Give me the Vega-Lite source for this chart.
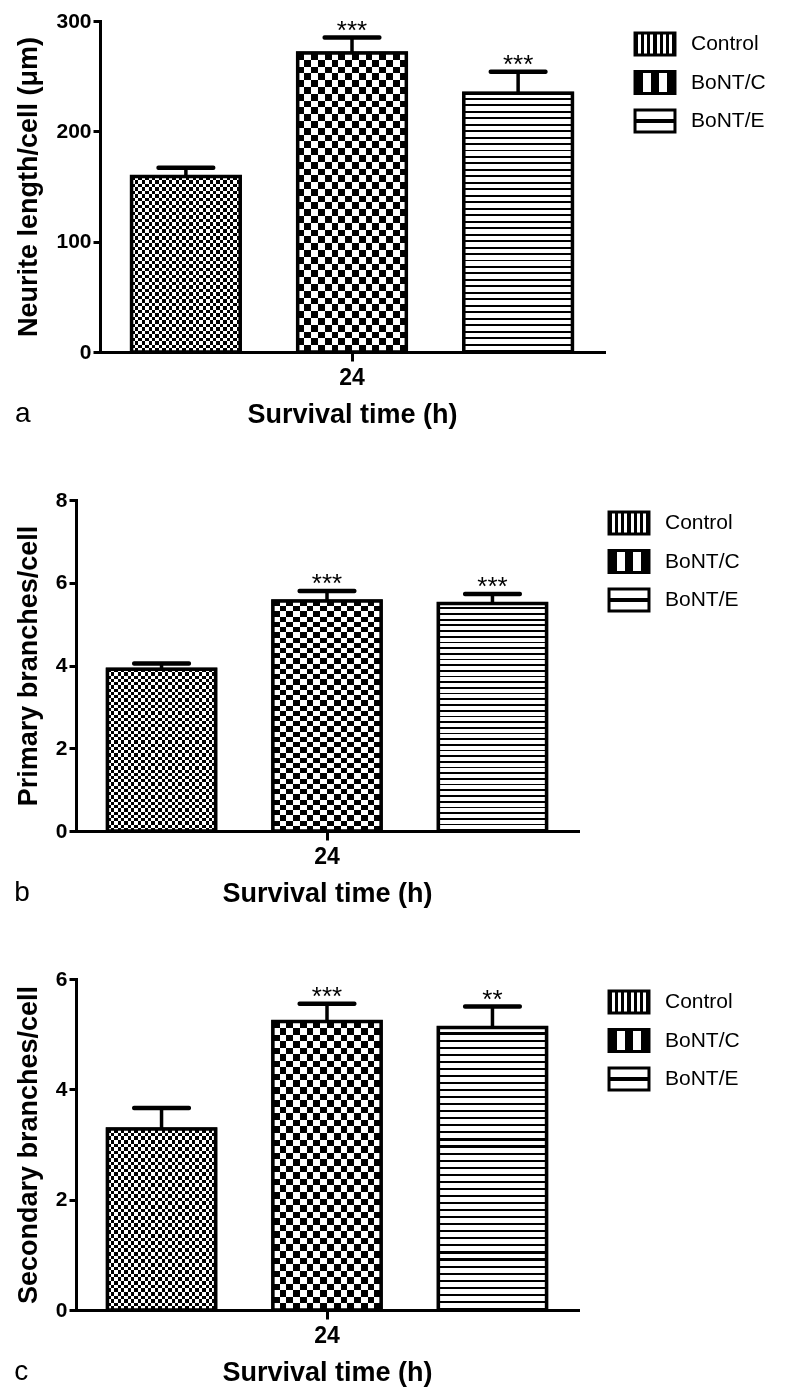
{
"$schema": "https://vega.github.io/schema/vega-lite/v6.json",
"background": "white",
"padding": {"left": 13, "top": 10, "right": 5, "bottom": 5},
"params": [
 {"name":"gLegCtrl","value":{"gradient":"linear","x1":0,"y1":0,"x2":1,"y2":0,"stops":[{"offset":0.0769,"color":"#000"},{"offset":0.0769,"color":"#fff"},{"offset":0.1538,"color":"#fff"},{"offset":0.1538,"color":"#000"},{"offset":0.2308,"color":"#000"},{"offset":0.2308,"color":"#fff"},{"offset":0.3077,"color":"#fff"},{"offset":0.3077,"color":"#000"},{"offset":0.3846,"color":"#000"},{"offset":0.3846,"color":"#fff"},{"offset":0.4615,"color":"#fff"},{"offset":0.4615,"color":"#000"},{"offset":0.5385,"color":"#000"},{"offset":0.5385,"color":"#fff"},{"offset":0.6154,"color":"#fff"},{"offset":0.6154,"color":"#000"},{"offset":0.6923,"color":"#000"},{"offset":0.6923,"color":"#fff"},{"offset":0.7692,"color":"#fff"},{"offset":0.7692,"color":"#000"},{"offset":0.8462,"color":"#000"},{"offset":0.8462,"color":"#fff"},{"offset":0.9231,"color":"#fff"},{"offset":0.9231,"color":"#000"}]}},
 {"name":"gLegC","value":{"gradient":"linear","x1":0,"y1":0,"x2":1,"y2":0,"stops":[{"offset":0.2,"color":"#000"},{"offset":0.2,"color":"#fff"},{"offset":0.4,"color":"#fff"},{"offset":0.4,"color":"#000"},{"offset":0.6,"color":"#000"},{"offset":0.6,"color":"#fff"},{"offset":0.8,"color":"#fff"},{"offset":0.8,"color":"#000"}]}},
 {"name":"gLegE","value":{"gradient":"linear","x1":0,"y1":0,"x2":0,"y2":1,"stops":[{"offset":0.42,"color":"#fff"},{"offset":0.42,"color":"#000"},{"offset":0.58,"color":"#000"},{"offset":0.58,"color":"#fff"}]}},
 {"name":"gCtrlV","value":{"gradient":"linear","x1":0,"y1":0,"x2":1,"y2":0,"stops":[
   {"offset":0.03125,"color":"#000"},{"offset":0.03125,"color":"#fff"},
   {"offset":0.0625,"color":"#fff"},{"offset":0.0625,"color":"#000"},
   {"offset":0.09375,"color":"#000"},{"offset":0.09375,"color":"#fff"},
   {"offset":0.125,"color":"#fff"},{"offset":0.125,"color":"#000"},
   {"offset":0.15625,"color":"#000"},{"offset":0.15625,"color":"#fff"},
   {"offset":0.1875,"color":"#fff"},{"offset":0.1875,"color":"#000"},
   {"offset":0.21875,"color":"#000"},{"offset":0.21875,"color":"#fff"},
   {"offset":0.25,"color":"#fff"},{"offset":0.25,"color":"#000"},
   {"offset":0.28125,"color":"#000"},{"offset":0.28125,"color":"#fff"},
   {"offset":0.3125,"color":"#fff"},{"offset":0.3125,"color":"#000"},
   {"offset":0.34375,"color":"#000"},{"offset":0.34375,"color":"#fff"},
   {"offset":0.375,"color":"#fff"},{"offset":0.375,"color":"#000"},
   {"offset":0.40625,"color":"#000"},{"offset":0.40625,"color":"#fff"},
   {"offset":0.4375,"color":"#fff"},{"offset":0.4375,"color":"#000"},
   {"offset":0.46875,"color":"#000"},{"offset":0.46875,"color":"#fff"},
   {"offset":0.5,"color":"#fff"},{"offset":0.5,"color":"#000"},
   {"offset":0.53125,"color":"#000"},{"offset":0.53125,"color":"#fff"},
   {"offset":0.5625,"color":"#fff"},{"offset":0.5625,"color":"#000"},
   {"offset":0.59375,"color":"#000"},{"offset":0.59375,"color":"#fff"},
   {"offset":0.625,"color":"#fff"},{"offset":0.625,"color":"#000"},
   {"offset":0.65625,"color":"#000"},{"offset":0.65625,"color":"#fff"},
   {"offset":0.6875,"color":"#fff"},{"offset":0.6875,"color":"#000"},
   {"offset":0.71875,"color":"#000"},{"offset":0.71875,"color":"#fff"},
   {"offset":0.75,"color":"#fff"},{"offset":0.75,"color":"#000"},
   {"offset":0.78125,"color":"#000"},{"offset":0.78125,"color":"#fff"},
   {"offset":0.8125,"color":"#fff"},{"offset":0.8125,"color":"#000"},
   {"offset":0.84375,"color":"#000"},{"offset":0.84375,"color":"#fff"},
   {"offset":0.875,"color":"#fff"},{"offset":0.875,"color":"#000"},
   {"offset":0.90625,"color":"#000"},{"offset":0.90625,"color":"#fff"},
   {"offset":0.9375,"color":"#fff"},{"offset":0.9375,"color":"#000"},
   {"offset":0.96875,"color":"#000"},{"offset":0.96875,"color":"#fff"}]}},
 {"name":"gCV","value":{"gradient":"linear","x1":0,"y1":0,"x2":1,"y2":0,"stops":[
   {"offset":0.0625,"color":"#000"},{"offset":0.0625,"color":"#fff"},
   {"offset":0.125,"color":"#fff"},{"offset":0.125,"color":"#000"},
   {"offset":0.1875,"color":"#000"},{"offset":0.1875,"color":"#fff"},
   {"offset":0.25,"color":"#fff"},{"offset":0.25,"color":"#000"},
   {"offset":0.3125,"color":"#000"},{"offset":0.3125,"color":"#fff"},
   {"offset":0.375,"color":"#fff"},{"offset":0.375,"color":"#000"},
   {"offset":0.4375,"color":"#000"},{"offset":0.4375,"color":"#fff"},
   {"offset":0.5,"color":"#fff"},{"offset":0.5,"color":"#000"},
   {"offset":0.5625,"color":"#000"},{"offset":0.5625,"color":"#fff"},
   {"offset":0.625,"color":"#fff"},{"offset":0.625,"color":"#000"},
   {"offset":0.6875,"color":"#000"},{"offset":0.6875,"color":"#fff"},
   {"offset":0.75,"color":"#fff"},{"offset":0.75,"color":"#000"},
   {"offset":0.8125,"color":"#000"},{"offset":0.8125,"color":"#fff"},
   {"offset":0.875,"color":"#fff"},{"offset":0.875,"color":"#000"},
   {"offset":0.9375,"color":"#000"},{"offset":0.9375,"color":"#fff"}]}},
 {"name":"gCtrlH","value":{"gradient":"linear","x1":0,"y1":0,"x2":0,"y2":1,"stops":[
   {"offset":0.02,"color":"#000"},{"offset":0.02,"color":"#fff"},
   {"offset":0.04,"color":"#fff"},{"offset":0.04,"color":"#000"},
   {"offset":0.06,"color":"#000"},{"offset":0.06,"color":"#fff"},
   {"offset":0.08,"color":"#fff"},{"offset":0.08,"color":"#000"},
   {"offset":0.1,"color":"#000"},{"offset":0.1,"color":"#fff"},
   {"offset":0.12,"color":"#fff"},{"offset":0.12,"color":"#000"},
   {"offset":0.14,"color":"#000"},{"offset":0.14,"color":"#fff"},
   {"offset":0.16,"color":"#fff"},{"offset":0.16,"color":"#000"},
   {"offset":0.18,"color":"#000"},{"offset":0.18,"color":"#fff"},
   {"offset":0.2,"color":"#fff"},{"offset":0.2,"color":"#000"},
   {"offset":0.22,"color":"#000"},{"offset":0.22,"color":"#fff"},
   {"offset":0.24,"color":"#fff"},{"offset":0.24,"color":"#000"},
   {"offset":0.26,"color":"#000"},{"offset":0.26,"color":"#fff"},
   {"offset":0.28,"color":"#fff"},{"offset":0.28,"color":"#000"},
   {"offset":0.3,"color":"#000"},{"offset":0.3,"color":"#fff"},
   {"offset":0.32,"color":"#fff"},{"offset":0.32,"color":"#000"},
   {"offset":0.34,"color":"#000"},{"offset":0.34,"color":"#fff"},
   {"offset":0.36,"color":"#fff"},{"offset":0.36,"color":"#000"},
   {"offset":0.38,"color":"#000"},{"offset":0.38,"color":"#fff"},
   {"offset":0.4,"color":"#fff"},{"offset":0.4,"color":"#000"},
   {"offset":0.42,"color":"#000"},{"offset":0.42,"color":"#fff"},
   {"offset":0.44,"color":"#fff"},{"offset":0.44,"color":"#000"},
   {"offset":0.46,"color":"#000"},{"offset":0.46,"color":"#fff"},
   {"offset":0.48,"color":"#fff"},{"offset":0.48,"color":"#000"},
   {"offset":0.5,"color":"#000"},{"offset":0.5,"color":"#fff"},
   {"offset":0.52,"color":"#fff"},{"offset":0.52,"color":"#000"},
   {"offset":0.54,"color":"#000"},{"offset":0.54,"color":"#fff"},
   {"offset":0.56,"color":"#fff"},{"offset":0.56,"color":"#000"},
   {"offset":0.58,"color":"#000"},{"offset":0.58,"color":"#fff"},
   {"offset":0.6,"color":"#fff"},{"offset":0.6,"color":"#000"},
   {"offset":0.62,"color":"#000"},{"offset":0.62,"color":"#fff"},
   {"offset":0.64,"color":"#fff"},{"offset":0.64,"color":"#000"},
   {"offset":0.66,"color":"#000"},{"offset":0.66,"color":"#fff"},
   {"offset":0.68,"color":"#fff"},{"offset":0.68,"color":"#000"},
   {"offset":0.7,"color":"#000"},{"offset":0.7,"color":"#fff"},
   {"offset":0.72,"color":"#fff"},{"offset":0.72,"color":"#000"},
   {"offset":0.74,"color":"#000"},{"offset":0.74,"color":"#fff"},
   {"offset":0.76,"color":"#fff"},{"offset":0.76,"color":"#000"},
   {"offset":0.78,"color":"#000"},{"offset":0.78,"color":"#fff"},
   {"offset":0.8,"color":"#fff"},{"offset":0.8,"color":"#000"},
   {"offset":0.82,"color":"#000"},{"offset":0.82,"color":"#fff"},
   {"offset":0.84,"color":"#fff"},{"offset":0.84,"color":"#000"},
   {"offset":0.86,"color":"#000"},{"offset":0.86,"color":"#fff"},
   {"offset":0.88,"color":"#fff"},{"offset":0.88,"color":"#000"},
   {"offset":0.9,"color":"#000"},{"offset":0.9,"color":"#fff"},
   {"offset":0.92,"color":"#fff"},{"offset":0.92,"color":"#000"},
   {"offset":0.94,"color":"#000"},{"offset":0.94,"color":"#fff"},
   {"offset":0.96,"color":"#fff"},{"offset":0.96,"color":"#000"},
   {"offset":0.98,"color":"#000"},{"offset":0.98,"color":"#fff"}]}},
 {"name":"gCH","value":{"gradient":"linear","x1":0,"y1":0,"x2":0,"y2":1,"stops":[
   {"offset":0.0227,"color":"#000"},{"offset":0.0227,"color":"#fff"},
   {"offset":0.0455,"color":"#fff"},{"offset":0.0455,"color":"#000"},
   {"offset":0.0682,"color":"#000"},{"offset":0.0682,"color":"#fff"},
   {"offset":0.0909,"color":"#fff"},{"offset":0.0909,"color":"#000"},
   {"offset":0.1136,"color":"#000"},{"offset":0.1136,"color":"#fff"},
   {"offset":0.1364,"color":"#fff"},{"offset":0.1364,"color":"#000"},
   {"offset":0.1591,"color":"#000"},{"offset":0.1591,"color":"#fff"},
   {"offset":0.1818,"color":"#fff"},{"offset":0.1818,"color":"#000"},
   {"offset":0.2045,"color":"#000"},{"offset":0.2045,"color":"#fff"},
   {"offset":0.2273,"color":"#fff"},{"offset":0.2273,"color":"#000"},
   {"offset":0.25,"color":"#000"},{"offset":0.25,"color":"#fff"},
   {"offset":0.2727,"color":"#fff"},{"offset":0.2727,"color":"#000"},
   {"offset":0.2955,"color":"#000"},{"offset":0.2955,"color":"#fff"},
   {"offset":0.3182,"color":"#fff"},{"offset":0.3182,"color":"#000"},
   {"offset":0.3409,"color":"#000"},{"offset":0.3409,"color":"#fff"},
   {"offset":0.3636,"color":"#fff"},{"offset":0.3636,"color":"#000"},
   {"offset":0.3864,"color":"#000"},{"offset":0.3864,"color":"#fff"},
   {"offset":0.4091,"color":"#fff"},{"offset":0.4091,"color":"#000"},
   {"offset":0.4318,"color":"#000"},{"offset":0.4318,"color":"#fff"},
   {"offset":0.4545,"color":"#fff"},{"offset":0.4545,"color":"#000"},
   {"offset":0.4773,"color":"#000"},{"offset":0.4773,"color":"#fff"},
   {"offset":0.5,"color":"#fff"},{"offset":0.5,"color":"#000"},
   {"offset":0.5227,"color":"#000"},{"offset":0.5227,"color":"#fff"},
   {"offset":0.5455,"color":"#fff"},{"offset":0.5455,"color":"#000"},
   {"offset":0.5682,"color":"#000"},{"offset":0.5682,"color":"#fff"},
   {"offset":0.5909,"color":"#fff"},{"offset":0.5909,"color":"#000"},
   {"offset":0.6136,"color":"#000"},{"offset":0.6136,"color":"#fff"},
   {"offset":0.6364,"color":"#fff"},{"offset":0.6364,"color":"#000"},
   {"offset":0.6591,"color":"#000"},{"offset":0.6591,"color":"#fff"},
   {"offset":0.6818,"color":"#fff"},{"offset":0.6818,"color":"#000"},
   {"offset":0.7045,"color":"#000"},{"offset":0.7045,"color":"#fff"},
   {"offset":0.7273,"color":"#fff"},{"offset":0.7273,"color":"#000"},
   {"offset":0.75,"color":"#000"},{"offset":0.75,"color":"#fff"},
   {"offset":0.7727,"color":"#fff"},{"offset":0.7727,"color":"#000"},
   {"offset":0.7955,"color":"#000"},{"offset":0.7955,"color":"#fff"},
   {"offset":0.8182,"color":"#fff"},{"offset":0.8182,"color":"#000"},
   {"offset":0.8409,"color":"#000"},{"offset":0.8409,"color":"#fff"},
   {"offset":0.8636,"color":"#fff"},{"offset":0.8636,"color":"#000"},
   {"offset":0.8864,"color":"#000"},{"offset":0.8864,"color":"#fff"},
   {"offset":0.9091,"color":"#fff"},{"offset":0.9091,"color":"#000"},
   {"offset":0.9318,"color":"#000"},{"offset":0.9318,"color":"#fff"},
   {"offset":0.9545,"color":"#fff"},{"offset":0.9545,"color":"#000"},
   {"offset":0.9773,"color":"#000"},{"offset":0.9773,"color":"#fff"}]}},
 {"name":"gEH","value":{"gradient":"linear","x1":0,"y1":0,"x2":0,"y2":1,"stops":[
   {"offset":0.0175,"color":"#fff"},{"offset":0.0175,"color":"#000"},{"offset":0.025,"color":"#000"},{"offset":0.025,"color":"#fff"},
   {"offset":0.0425,"color":"#fff"},{"offset":0.0425,"color":"#000"},{"offset":0.05,"color":"#000"},{"offset":0.05,"color":"#fff"},
   {"offset":0.0675,"color":"#fff"},{"offset":0.0675,"color":"#000"},{"offset":0.075,"color":"#000"},{"offset":0.075,"color":"#fff"},
   {"offset":0.0925,"color":"#fff"},{"offset":0.0925,"color":"#000"},{"offset":0.1,"color":"#000"},{"offset":0.1,"color":"#fff"},
   {"offset":0.1175,"color":"#fff"},{"offset":0.1175,"color":"#000"},{"offset":0.125,"color":"#000"},{"offset":0.125,"color":"#fff"},
   {"offset":0.1425,"color":"#fff"},{"offset":0.1425,"color":"#000"},{"offset":0.15,"color":"#000"},{"offset":0.15,"color":"#fff"},
   {"offset":0.1675,"color":"#fff"},{"offset":0.1675,"color":"#000"},{"offset":0.175,"color":"#000"},{"offset":0.175,"color":"#fff"},
   {"offset":0.1925,"color":"#fff"},{"offset":0.1925,"color":"#000"},{"offset":0.2,"color":"#000"},{"offset":0.2,"color":"#fff"},
   {"offset":0.2175,"color":"#fff"},{"offset":0.2175,"color":"#000"},{"offset":0.225,"color":"#000"},{"offset":0.225,"color":"#fff"},
   {"offset":0.2425,"color":"#fff"},{"offset":0.2425,"color":"#000"},{"offset":0.25,"color":"#000"},{"offset":0.25,"color":"#fff"},
   {"offset":0.2675,"color":"#fff"},{"offset":0.2675,"color":"#000"},{"offset":0.275,"color":"#000"},{"offset":0.275,"color":"#fff"},
   {"offset":0.2925,"color":"#fff"},{"offset":0.2925,"color":"#000"},{"offset":0.3,"color":"#000"},{"offset":0.3,"color":"#fff"},
   {"offset":0.3175,"color":"#fff"},{"offset":0.3175,"color":"#000"},{"offset":0.325,"color":"#000"},{"offset":0.325,"color":"#fff"},
   {"offset":0.3425,"color":"#fff"},{"offset":0.3425,"color":"#000"},{"offset":0.35,"color":"#000"},{"offset":0.35,"color":"#fff"},
   {"offset":0.3675,"color":"#fff"},{"offset":0.3675,"color":"#000"},{"offset":0.375,"color":"#000"},{"offset":0.375,"color":"#fff"},
   {"offset":0.3925,"color":"#fff"},{"offset":0.3925,"color":"#000"},{"offset":0.4,"color":"#000"},{"offset":0.4,"color":"#fff"},
   {"offset":0.4175,"color":"#fff"},{"offset":0.4175,"color":"#000"},{"offset":0.425,"color":"#000"},{"offset":0.425,"color":"#fff"},
   {"offset":0.4425,"color":"#fff"},{"offset":0.4425,"color":"#000"},{"offset":0.45,"color":"#000"},{"offset":0.45,"color":"#fff"},
   {"offset":0.4675,"color":"#fff"},{"offset":0.4675,"color":"#000"},{"offset":0.475,"color":"#000"},{"offset":0.475,"color":"#fff"},
   {"offset":0.4925,"color":"#fff"},{"offset":0.4925,"color":"#000"},{"offset":0.5,"color":"#000"},{"offset":0.5,"color":"#fff"},
   {"offset":0.5175,"color":"#fff"},{"offset":0.5175,"color":"#000"},{"offset":0.525,"color":"#000"},{"offset":0.525,"color":"#fff"},
   {"offset":0.5425,"color":"#fff"},{"offset":0.5425,"color":"#000"},{"offset":0.55,"color":"#000"},{"offset":0.55,"color":"#fff"},
   {"offset":0.5675,"color":"#fff"},{"offset":0.5675,"color":"#000"},{"offset":0.575,"color":"#000"},{"offset":0.575,"color":"#fff"},
   {"offset":0.5925,"color":"#fff"},{"offset":0.5925,"color":"#000"},{"offset":0.6,"color":"#000"},{"offset":0.6,"color":"#fff"},
   {"offset":0.6175,"color":"#fff"},{"offset":0.6175,"color":"#000"},{"offset":0.625,"color":"#000"},{"offset":0.625,"color":"#fff"},
   {"offset":0.6425,"color":"#fff"},{"offset":0.6425,"color":"#000"},{"offset":0.65,"color":"#000"},{"offset":0.65,"color":"#fff"},
   {"offset":0.6675,"color":"#fff"},{"offset":0.6675,"color":"#000"},{"offset":0.675,"color":"#000"},{"offset":0.675,"color":"#fff"},
   {"offset":0.6925,"color":"#fff"},{"offset":0.6925,"color":"#000"},{"offset":0.7,"color":"#000"},{"offset":0.7,"color":"#fff"},
   {"offset":0.7175,"color":"#fff"},{"offset":0.7175,"color":"#000"},{"offset":0.725,"color":"#000"},{"offset":0.725,"color":"#fff"},
   {"offset":0.7425,"color":"#fff"},{"offset":0.7425,"color":"#000"},{"offset":0.75,"color":"#000"},{"offset":0.75,"color":"#fff"},
   {"offset":0.7675,"color":"#fff"},{"offset":0.7675,"color":"#000"},{"offset":0.775,"color":"#000"},{"offset":0.775,"color":"#fff"},
   {"offset":0.7925,"color":"#fff"},{"offset":0.7925,"color":"#000"},{"offset":0.8,"color":"#000"},{"offset":0.8,"color":"#fff"},
   {"offset":0.8175,"color":"#fff"},{"offset":0.8175,"color":"#000"},{"offset":0.825,"color":"#000"},{"offset":0.825,"color":"#fff"},
   {"offset":0.8425,"color":"#fff"},{"offset":0.8425,"color":"#000"},{"offset":0.85,"color":"#000"},{"offset":0.85,"color":"#fff"},
   {"offset":0.8675,"color":"#fff"},{"offset":0.8675,"color":"#000"},{"offset":0.875,"color":"#000"},{"offset":0.875,"color":"#fff"},
   {"offset":0.8925,"color":"#fff"},{"offset":0.8925,"color":"#000"},{"offset":0.9,"color":"#000"},{"offset":0.9,"color":"#fff"},
   {"offset":0.9175,"color":"#fff"},{"offset":0.9175,"color":"#000"},{"offset":0.925,"color":"#000"},{"offset":0.925,"color":"#fff"},
   {"offset":0.9425,"color":"#fff"},{"offset":0.9425,"color":"#000"},{"offset":0.95,"color":"#000"},{"offset":0.95,"color":"#fff"},
   {"offset":0.9675,"color":"#fff"},{"offset":0.9675,"color":"#000"},{"offset":0.975,"color":"#000"},{"offset":0.975,"color":"#fff"},
   {"offset":0.9925,"color":"#fff"},{"offset":0.9925,"color":"#000"}]}}
],
"datasets": {
 "a": [
  {"time":"24","group":"Control","mean":159,"upper":167,"sig":""},
  {"time":"24","group":"BoNT/C","mean":271,"upper":285,"sig":"***"},
  {"time":"24","group":"BoNT/E","mean":234.5,"upper":254,"sig":"***"}],
 "b": [
  {"time":"24","group":"Control","mean":3.91,"upper":4.05,"sig":""},
  {"time":"24","group":"BoNT/C","mean":5.56,"upper":5.8,"sig":"***"},
  {"time":"24","group":"BoNT/E","mean":5.5,"upper":5.73,"sig":"***"}],
 "c": [
  {"time":"24","group":"Control","mean":3.28,"upper":3.66,"sig":""},
  {"time":"24","group":"BoNT/C","mean":5.23,"upper":5.55,"sig":"***"},
  {"time":"24","group":"BoNT/E","mean":5.12,"upper":5.5,"sig":"**"}],
 "blank": [{}]
},
"spacing": 61,
"resolve": {"scale": {"x":"independent","y":"independent","xOffset":"independent","color":"independent","stroke":"independent"}, "legend": {"color":"independent","stroke":"independent"}},
"vconcat": [
 {"spacing": 0, "hconcat":[
  {"data":{"name":"blank"},"width":1,"height":1,"mark":{"type":"text","opacity":0},"encoding":{"text":{"value":""}}},
  {"data":{"name":"a"},"width":504,"height":331,
  "title":{"text":"a","orient":"bottom","anchor":"start","offset":-27,"fontSize":28,"fontWeight":"normal","font":"Liberation Sans","color":"black"},
  "encoding":{
   "x":{"field":"time","type":"nominal","scale":{"paddingInner":0,"paddingOuter":0},"axis":{"title":"Survival time (h)"}},
   "xOffset":{"field":"group","type":"nominal","scale":{"domain":["Control","BoNT/C","BoNT/E"],"paddingInner":0.346,"paddingOuter":0.19}},
   "y":{"field":"mean","type":"quantitative","scale":{"domain":[0,300],"nice":false},"axis":{"title":"Neurite length/cell (μm)","values":[0,100,200,300]}}
  },
  "layer":[
   {"mark":{"type":"bar","strokeWidth":3},"encoding":{
     "color":{"field":"group","type":"nominal","scale":{"domain":["Control","BoNT/C","BoNT/E"],"range":[{"expr":"gLegCtrl"},{"expr":"gLegC"},{"expr":"gLegE"}]},"legend":{"title":null,"symbolType":"M-1.08,-0.6H1.08V0.6H-1.08Z","symbolSize":1369}},
     "stroke":{"field":"group","type":"nominal","scale":{"domain":["Control","BoNT/C","BoNT/E"],"range":["black","black","black"]},"legend":{"title":null,"symbolType":"M-1.08,-0.6H1.08V0.6H-1.08Z","symbolSize":1369}}}},
   {"transform":[{"filter":"datum.group==='Control'"}],"mark":{"type":"bar","fill":{"expr":"gCtrlV"}}},
   {"transform":[{"filter":"datum.group==='BoNT/C'"}],"mark":{"type":"bar","fill":{"expr":"gCV"}}},
   {"transform":[{"filter":"datum.group==='BoNT/E'"}],"mark":{"type":"bar","fill":{"expr":"gEH"}}},
   {"transform":[{"filter":"datum.group==='Control'"}],"mark":{"type":"bar","fill":{"expr":"gCtrlH"},"blend":"difference"}},
   {"transform":[{"filter":"datum.group==='BoNT/C'"}],"mark":{"type":"bar","fill":{"expr":"gCH"},"blend":"difference"}},
   {"mark":{"type":"bar","fillOpacity":0,"stroke":"black","strokeWidth":3.5}},
   {"mark":{"type":"rule","stroke":"black","strokeWidth":3.5},"encoding":{"y2":{"field":"upper"}}},
   {"mark":{"type":"tick","color":"black","thickness":4.5,"size":59,"cornerRadius":2,"opacity":1},"encoding":{"y":{"field":"upper","type":"quantitative"}}},
   {"mark":{"type":"text","font":"Liberation Sans","fontSize":26,"baseline":"alphabetic","dy":1,"color":"black"},"encoding":{"y":{"field":"upper","type":"quantitative"},"text":{"field":"sig"}}}
  ]}]},
 {"spacing": 0, "hconcat":[
  {"data":{"name":"blank"},"width":1,"height":1,"mark":{"type":"text","opacity":0},"encoding":{"text":{"value":""}}},
  {"data":{"name":"b"},"width":502,"height":331,
  "title":{"text":"b","orient":"bottom","anchor":"start","offset":-27,"fontSize":28,"fontWeight":"normal","font":"Liberation Sans","color":"black"},
  "encoding":{
   "x":{"field":"time","type":"nominal","scale":{"paddingInner":0,"paddingOuter":0},"axis":{"title":"Survival time (h)"}},
   "xOffset":{"field":"group","type":"nominal","scale":{"domain":["Control","BoNT/C","BoNT/E"],"paddingInner":0.346,"paddingOuter":0.19}},
   "y":{"field":"mean","type":"quantitative","scale":{"domain":[0,8],"nice":false},"axis":{"title":"Primary branches/cell","values":[0,2,4,6,8]}}
  },
  "layer":[
   {"mark":{"type":"bar","strokeWidth":3},"encoding":{
     "color":{"field":"group","type":"nominal","scale":{"domain":["Control","BoNT/C","BoNT/E"],"range":[{"expr":"gLegCtrl"},{"expr":"gLegC"},{"expr":"gLegE"}]},"legend":{"title":null,"symbolType":"M-1.08,-0.6H1.08V0.6H-1.08Z","symbolSize":1369}},
     "stroke":{"field":"group","type":"nominal","scale":{"domain":["Control","BoNT/C","BoNT/E"],"range":["black","black","black"]},"legend":{"title":null,"symbolType":"M-1.08,-0.6H1.08V0.6H-1.08Z","symbolSize":1369}}}},
   {"transform":[{"filter":"datum.group==='Control'"}],"mark":{"type":"bar","fill":{"expr":"gCtrlV"}}},
   {"transform":[{"filter":"datum.group==='BoNT/C'"}],"mark":{"type":"bar","fill":{"expr":"gCV"}}},
   {"transform":[{"filter":"datum.group==='BoNT/E'"}],"mark":{"type":"bar","fill":{"expr":"gEH"}}},
   {"transform":[{"filter":"datum.group==='Control'"}],"mark":{"type":"bar","fill":{"expr":"gCtrlH"},"blend":"difference"}},
   {"transform":[{"filter":"datum.group==='BoNT/C'"}],"mark":{"type":"bar","fill":{"expr":"gCH"},"blend":"difference"}},
   {"mark":{"type":"bar","fillOpacity":0,"stroke":"black","strokeWidth":3.5}},
   {"mark":{"type":"rule","stroke":"black","strokeWidth":3.5},"encoding":{"y2":{"field":"upper"}}},
   {"mark":{"type":"tick","color":"black","thickness":4.5,"size":59,"cornerRadius":2,"opacity":1},"encoding":{"y":{"field":"upper","type":"quantitative"}}},
   {"mark":{"type":"text","font":"Liberation Sans","fontSize":26,"baseline":"alphabetic","dy":1,"color":"black"},"encoding":{"y":{"field":"upper","type":"quantitative"},"text":{"field":"sig"}}}
  ]}]},
 {"spacing": 0, "hconcat":[
  {"data":{"name":"blank"},"width":1,"height":1,"mark":{"type":"text","opacity":0},"encoding":{"text":{"value":""}}},
  {"data":{"name":"c"},"width":502,"height":331,
  "title":{"text":"c","orient":"bottom","anchor":"start","offset":-27,"fontSize":28,"fontWeight":"normal","font":"Liberation Sans","color":"black"},
  "encoding":{
   "x":{"field":"time","type":"nominal","scale":{"paddingInner":0,"paddingOuter":0},"axis":{"title":"Survival time (h)"}},
   "xOffset":{"field":"group","type":"nominal","scale":{"domain":["Control","BoNT/C","BoNT/E"],"paddingInner":0.346,"paddingOuter":0.19}},
   "y":{"field":"mean","type":"quantitative","scale":{"domain":[0,6],"nice":false},"axis":{"title":"Secondary branches/cell","values":[0,2,4,6]}}
  },
  "layer":[
   {"mark":{"type":"bar","strokeWidth":3},"encoding":{
     "color":{"field":"group","type":"nominal","scale":{"domain":["Control","BoNT/C","BoNT/E"],"range":[{"expr":"gLegCtrl"},{"expr":"gLegC"},{"expr":"gLegE"}]},"legend":{"title":null,"symbolType":"M-1.08,-0.6H1.08V0.6H-1.08Z","symbolSize":1369}},
     "stroke":{"field":"group","type":"nominal","scale":{"domain":["Control","BoNT/C","BoNT/E"],"range":["black","black","black"]},"legend":{"title":null,"symbolType":"M-1.08,-0.6H1.08V0.6H-1.08Z","symbolSize":1369}}}},
   {"transform":[{"filter":"datum.group==='Control'"}],"mark":{"type":"bar","fill":{"expr":"gCtrlV"}}},
   {"transform":[{"filter":"datum.group==='BoNT/C'"}],"mark":{"type":"bar","fill":{"expr":"gCV"}}},
   {"transform":[{"filter":"datum.group==='BoNT/E'"}],"mark":{"type":"bar","fill":{"expr":"gEH"}}},
   {"transform":[{"filter":"datum.group==='Control'"}],"mark":{"type":"bar","fill":{"expr":"gCtrlH"},"blend":"difference"}},
   {"transform":[{"filter":"datum.group==='BoNT/C'"}],"mark":{"type":"bar","fill":{"expr":"gCH"},"blend":"difference"}},
   {"mark":{"type":"bar","fillOpacity":0,"stroke":"black","strokeWidth":3.5}},
   {"mark":{"type":"rule","stroke":"black","strokeWidth":3.5},"encoding":{"y2":{"field":"upper"}}},
   {"mark":{"type":"tick","color":"black","thickness":4.5,"size":59,"cornerRadius":2,"opacity":1},"encoding":{"y":{"field":"upper","type":"quantitative"}}},
   {"mark":{"type":"text","font":"Liberation Sans","fontSize":26,"baseline":"alphabetic","dy":1,"color":"black"},"encoding":{"y":{"field":"upper","type":"quantitative"},"text":{"field":"sig"}}}
  ]}]}
],
"config": {
 "view": {"stroke": null},
 "font": "Liberation Sans",
 "axis": {"domainColor":"black","domainWidth":3,"domainCap":"square","tickColor":"black","tickWidth":3,"labelColor":"black","labelFont":"Liberation Sans","labelFontWeight":"bold","labelFontSize":21,"titleFont":"Liberation Sans","titleFontWeight":"bold","titleFontSize":27,"titleColor":"black","grid":false},
 "axisX": {"tickSize":9,"labelPadding":5,"titlePadding":12,"labelAngle":0,"labelFontSize":23},
 "axisY": {"tickSize":7,"labelPadding":2,"titlePadding":13},
 "legend": {"orient":"right","offset":27.5,"padding":3,"rowPadding":0.5,"labelFont":"Liberation Sans","labelFontSize":21,"labelColor":"black","labelOffset":16,"symbolStrokeColor":"black","symbolStrokeWidth":3,"symbolOpacity":1}
}
}
